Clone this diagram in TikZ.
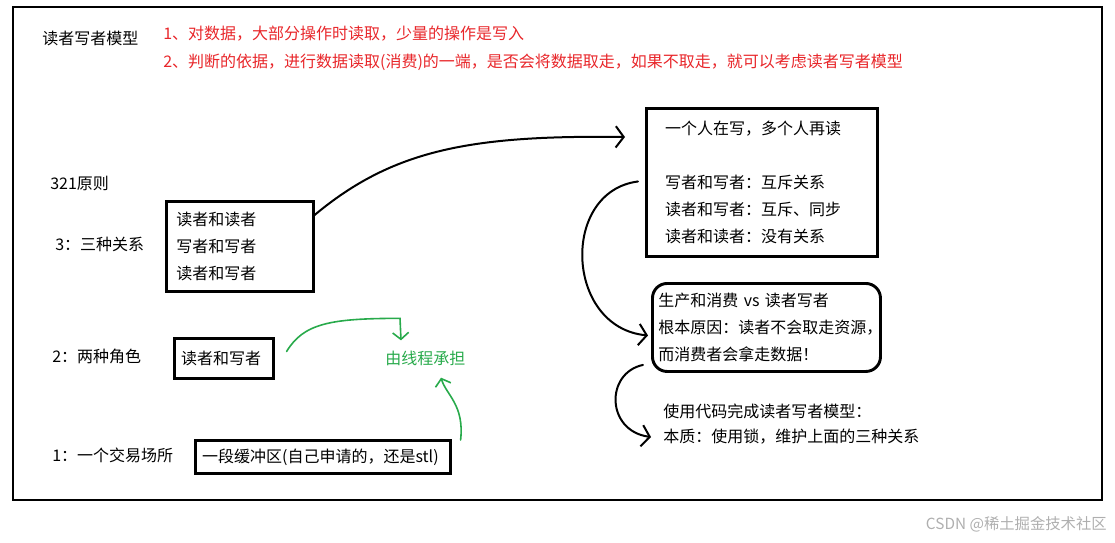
\documentclass[tikz,border=0pt]{standalone}
\usepackage{fontspec}
\setmainfont{Noto Sans CJK SC}
\usepackage{tikz}
\usetikzlibrary{positioning,calc}
\usetikzlibrary{arrows.meta}
\definecolor{PaintRed}{RGB}{232,38,42}
\definecolor{PaintGreen}{RGB}{40,170,75}
\definecolor{MarkGray}{RGB}{175,175,175}
\tikzset{
  txt/.style={anchor=west,inner sep=0pt,font=\fontsize{12pt}{20pt}\selectfont},
  note/.style={txt,text=PaintRed},
  box/.style={draw=black,line width=2.2pt,anchor=north west,inner ysep=0pt,align=left,
    font=\fontsize{12pt}{20.25pt}\selectfont},
  link/.style={draw=black,line width=1.5pt,line cap=round,-{Straight Barb[length=6pt,width=16pt]}},
  glink/.style={draw=PaintGreen,line width=1.2pt,line cap=round,-{Straight Barb[length=5pt,width=12pt]}},
}
\tikzset{wmark/.style={txt,font=\fontsize{11.5pt}{13pt}\selectfont,text=MarkGray}}

\begin{document}
\begin{tikzpicture}[x=0.75pt,y=-0.75pt]
\useasboundingbox (0,0) rectangle (1115,543);
\draw[line width=2.2pt] (13,7) rectangle (1102,500);
% heading
\node[txt] (title) at (42,38) {读者写者模型};
\node[note] (note1) at (163,34) {1、对数据，大部分操作时读取，少量的操作是写入};
\node[note] (note2) at (163,62) {2、判断的依据，进行数据读取(消费)的一端，是否会将数据取走，如果不取走，就可以考虑读者写者模型};
% left column
\node[txt] (rule321) at (50,183) {321原则};
\node[txt] (three) at (55,244) {3：三种关系};
\node[txt] (two) at (52,356) {2：两种角色};
\node[txt] (one) at (52,455) {1：一个交易场所};
\node[box,inner xsep=7.5pt,text width=95pt,minimum height=67.5pt] (pairs) at (165,200) {读者和读者\\写者和写者\\读者和写者};
\node[box,inner xsep=5pt,text width=64pt,minimum height=30pt] (roles) at (173,337) {读者和写者};
\node[box,inner xsep=5pt,text width=181pt,minimum height=24.75pt] (buffer) at (194,439) {一段缓冲区(自己申请的，还是stl)};
\node[txt,text=PaintGreen] (thread) at (385,358) {由线程承担};
% right column
\node[box,inner xsep=14pt,text width=145pt,minimum height=111pt] (rules) at (645,107) {一个人在写，多个人再读\\[20pt]写者和写者：互斥关系\\读者和写者：互斥、同步\\读者和读者：没有关系};
\node[box,rounded corners=11pt,inner xsep=4.5pt,text width=162pt,minimum height=66pt] (compare) at (651,282) {生产和消费 vs 读者写者\\根本原因：读者不会取走资源，\\而消费者会拿走数据！};
\node[txt] (usage) at (663,411) {使用代码完成读者写者模型：};
\node[txt] (core) at (663,437) {本质：使用锁，维护上面的三种关系};
% connectors
\draw[link] ($(pairs.north east)+(0,15)$) .. controls +(78,-65) and +(-155,-2) .. ($(rules.north west)+(-20,30)$);
\draw[link] ($(rules.west)+(-7,-1)$) .. controls +(-78,10) and +(-83,-8) .. ($(compare.west)+(-3,8)$);
\draw[link] ($(compare.south west)+(-8,-8)$) .. controls +(-38,8) and +(-45,-6) .. ($(core.west)+(-12,0)$);
\draw[glink] ($(roles.east)+(12,-7)$) .. controls +(17,-28) and +(-70,0) .. ($(thread.north west)+(15,-32)$) -- ($(thread.north west)+(16,-10)$);
\draw[glink] ($(buffer.north east)+(9,1)$) .. controls +(4,-35) and +(5,17) .. ($(thread.south west)+(56,12)$);
% watermark
\node[wmark,anchor=east] (wm) at (1107,524) {CSDN @稀土掘金技术社区};
\end{tikzpicture}
\end{document}
